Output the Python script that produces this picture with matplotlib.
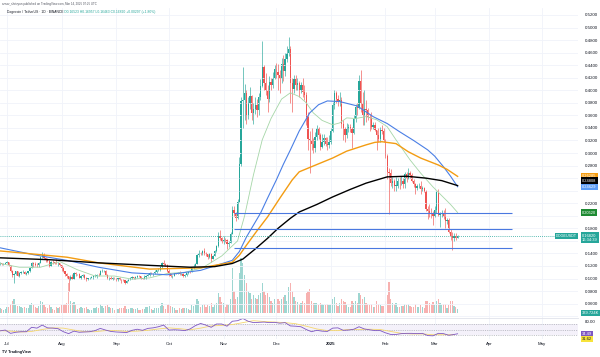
import numpy as np
import pandas as pd
import matplotlib
matplotlib.use("Agg")
import matplotlib.pyplot as plt
import matplotlib.dates as mdates
from matplotlib.transforms import blended_transform_factory

plt.rcParams["font.family"] = ["Liberation Sans", "DejaVu Sans"]

# Daily DOGE/USDT candles, 2024-06-27 .. 2025-03-14 (open = previous close)
first_open = 0.1240
closes = [
    0.1245, 0.1228, 0.1235, 0.1250,
    # jul
    0.1256, 0.1210, 0.1125, 0.1050, 0.1070, 0.1115, 0.1048, 0.1090, 0.1103, 0.1105,
    0.1075, 0.1086, 0.1113, 0.1170, 0.1250, 0.1226, 0.1217, 0.1213, 0.1245, 0.1351,
    0.1375, 0.1326, 0.1298, 0.1285, 0.1205, 0.1266, 0.1260, 0.1252, 0.1240, 0.1243, 0.1208,
    # aug
    0.1174, 0.1117, 0.1070, 0.1033, 0.0984, 0.1027, 0.0997, 0.1096, 0.1066, 0.1069,
    0.1015, 0.1045, 0.1058, 0.1012, 0.0985, 0.1002, 0.1014, 0.1019, 0.1035, 0.1040,
    0.1064, 0.1056, 0.1120, 0.1121, 0.1121, 0.1064, 0.1003, 0.1010, 0.1000, 0.1016, 0.1010,
    # sep
    0.0978, 0.1003, 0.0977, 0.0975, 0.0969, 0.0934, 0.0966, 0.0985, 0.1007, 0.1023,
    0.1011, 0.1021, 0.1047, 0.1040, 0.1009, 0.0996, 0.1022, 0.1045, 0.1060, 0.1090,
    0.1084, 0.1087, 0.1109, 0.1128, 0.1138, 0.1178, 0.1247, 0.1238, 0.1218, 0.1117,
    # oct
    0.1081, 0.1037, 0.1044, 0.1082, 0.1080, 0.1088, 0.1068, 0.1078, 0.1040, 0.1052,
    0.1086, 0.1109, 0.1104, 0.1176, 0.1200, 0.1237, 0.1367, 0.1412, 0.1388, 0.1445,
    0.1406, 0.1387, 0.1349, 0.1383, 0.1315, 0.1364, 0.1442, 0.1523, 0.1674, 0.1647, 0.1589,
    # nov
    0.1620, 0.1614, 0.1557, 0.1574, 0.1716, 0.2089, 0.2044, 0.1957, 0.2217, 0.2820,
    0.3823, 0.3850, 0.3949, 0.3602, 0.3796, 0.3909, 0.3633, 0.3703, 0.3759, 0.3684,
    0.3893, 0.4072, 0.4370, 0.4120, 0.4003, 0.3860, 0.4138, 0.4078, 0.4193, 0.4332,
    # dec
    0.4290, 0.4240, 0.4180, 0.4420, 0.4300, 0.4500, 0.4600, 0.4660, 0.4120, 0.4020,
    0.4180, 0.4080, 0.4110, 0.4000, 0.4080, 0.3980, 0.3930, 0.3570, 0.3230, 0.3200,
    0.3150, 0.3080, 0.3260, 0.3400, 0.3280, 0.3100, 0.3170, 0.3240, 0.3150, 0.3120, 0.3170,
    # jan
    0.3350, 0.3770, 0.3950, 0.3860, 0.3820, 0.3850, 0.3460, 0.3390, 0.3290, 0.3390,
    0.3420, 0.3380, 0.3320, 0.3550, 0.3740, 0.3710, 0.4140, 0.3800, 0.3600, 0.3700,
    0.3680, 0.3570, 0.3560, 0.3420, 0.3450, 0.3370, 0.3290, 0.3220, 0.3360, 0.3350, 0.3210,
    # feb
    0.2950, 0.2700, 0.2680, 0.2520, 0.2560, 0.2480, 0.2480, 0.2560, 0.2550, 0.2560,
    0.2500, 0.2670, 0.2590, 0.2680, 0.2650, 0.2550, 0.2510, 0.2440, 0.2470, 0.2480,
    0.2420, 0.2440, 0.2400, 0.2110, 0.2070, 0.2050, 0.2040, 0.2000,
    # mar
    0.2100, 0.2380, 0.2020, 0.2030, 0.2050, 0.1980, 0.1920, 0.1940, 0.1740, 0.1670,
    0.1640, 0.1680, 0.1652, 0.1682,
]
highs = [
    0.1262, 0.1255, 0.1245, 0.1262,
    0.1278, 0.1262, 0.1215, 0.1135, 0.1085, 0.1125, 0.1120, 0.1110, 0.1125, 0.1130,
    0.1125, 0.1098, 0.1120, 0.1185, 0.1262, 0.1265, 0.1265, 0.1240, 0.1270, 0.1365,
    0.1420, 0.1400, 0.1345, 0.1320, 0.1290, 0.1278, 0.1295, 0.1265, 0.1310, 0.1260, 0.1255,
    0.1215, 0.1185, 0.1125, 0.1085, 0.1040, 0.1055, 0.1065, 0.1105, 0.1108, 0.1080,
    0.1085, 0.1060, 0.1070, 0.1065, 0.1030, 0.1015, 0.1022, 0.1040, 0.1042, 0.1075,
    0.1070, 0.1085, 0.1135, 0.1150, 0.1135, 0.1130, 0.1080, 0.1030, 0.1045, 0.1025, 0.1025,
    0.1015, 0.1008, 0.1020, 0.0985, 0.0992, 0.0980, 0.0975, 0.0995, 0.1020, 0.1035,
    0.1030, 0.1035, 0.1055, 0.1060, 0.1048, 0.1015, 0.1050, 0.1050, 0.1085, 0.1110,
    0.1098, 0.1095, 0.1130, 0.1140, 0.1165, 0.1195, 0.1270, 0.1300, 0.1255, 0.1225,
    0.1150, 0.1095, 0.1060, 0.1090, 0.1095, 0.1098, 0.1125, 0.1090, 0.1085, 0.1065,
    0.1095, 0.1115, 0.1118, 0.1190, 0.1225, 0.1255, 0.1390, 0.1450, 0.1420, 0.1460,
    0.1480, 0.1425, 0.1395, 0.1400, 0.1400, 0.1375, 0.1450, 0.1535, 0.1745, 0.1780, 0.1660,
    0.1680, 0.1640, 0.1625, 0.1600, 0.1745, 0.2155, 0.2160, 0.2060, 0.2265, 0.2930,
    0.3890, 0.4370, 0.4100, 0.4005, 0.3900, 0.4050, 0.3930, 0.3790, 0.3900, 0.3860,
    0.3960, 0.4180, 0.4780, 0.4400, 0.4280, 0.4080, 0.4220, 0.4200, 0.4290, 0.4400,
    0.4440, 0.4420, 0.4330, 0.4520, 0.4560, 0.4600, 0.4700, 0.4850, 0.4700, 0.4200,
    0.4250, 0.4250, 0.4200, 0.4150, 0.4130, 0.4200, 0.4080, 0.3980, 0.3650, 0.3350,
    0.3400, 0.3240, 0.3330, 0.3450, 0.3420, 0.3320, 0.3300, 0.3310, 0.3260, 0.3250, 0.3290,
    0.3400, 0.3820, 0.4000, 0.3990, 0.3920, 0.3980, 0.3900, 0.3520, 0.3420, 0.3480,
    0.3470, 0.3470, 0.3420, 0.3600, 0.3780, 0.3800, 0.4240, 0.4320, 0.3980, 0.4000,
    0.3850, 0.3720, 0.3620, 0.3650, 0.3500, 0.3500, 0.3370, 0.3400, 0.3410, 0.3450, 0.3400,
    0.3220, 0.2980, 0.2760, 0.2750, 0.2620, 0.2590, 0.2620, 0.2600, 0.2620, 0.2630,
    0.2600, 0.2700, 0.2700, 0.2760, 0.2720, 0.2680, 0.2590, 0.2530, 0.2510, 0.2520,
    0.2560, 0.2470, 0.2460, 0.2410, 0.2150, 0.2180, 0.2120, 0.2070,
    0.2160, 0.2400, 0.2420, 0.2060, 0.2100, 0.2100, 0.2120, 0.1960, 0.1960, 0.1790,
    0.1740, 0.1720, 0.1720, 0.1696,
]
lows = [
    0.1222, 0.1215, 0.1220, 0.1225,
    0.1240, 0.1200, 0.1110, 0.1030, 0.0935, 0.1055, 0.1040, 0.1020, 0.1075, 0.1085,
    0.1065, 0.1055, 0.1080, 0.1108, 0.1160, 0.1190, 0.1200, 0.1185, 0.1180, 0.1240,
    0.1320, 0.1310, 0.1270, 0.1268, 0.1180, 0.1200, 0.1230, 0.1225, 0.1235, 0.1200, 0.1200,
    0.1125, 0.1100, 0.1045, 0.1005, 0.0800, 0.0975, 0.0985, 0.0985, 0.1040, 0.1050,
    0.1005, 0.0995, 0.1020, 0.1000, 0.0965, 0.0975, 0.0995, 0.1005, 0.0998, 0.1020,
    0.1015, 0.1040, 0.1050, 0.1100, 0.1100, 0.1055, 0.0990, 0.0975, 0.0990, 0.0975, 0.0998,
    0.0960, 0.0965, 0.0972, 0.0925, 0.0955, 0.0915, 0.0930, 0.0955, 0.0975, 0.0995,
    0.0985, 0.1000, 0.1010, 0.1028, 0.1000, 0.0985, 0.0990, 0.0995, 0.1040, 0.1048,
    0.1068, 0.1045, 0.1075, 0.1085, 0.1115, 0.1125, 0.1165, 0.1215, 0.1205, 0.1105,
    0.1035, 0.1025, 0.1015, 0.1040, 0.1065, 0.1072, 0.1060, 0.1050, 0.1030, 0.1020,
    0.1045, 0.1080, 0.1085, 0.1100, 0.1150, 0.1185, 0.1225, 0.1345, 0.1370, 0.1375,
    0.1380, 0.1360, 0.1310, 0.1335, 0.1270, 0.1305, 0.1355, 0.1425, 0.1510, 0.1610, 0.1560,
    0.1550, 0.1575, 0.1465, 0.1500, 0.1565, 0.1710, 0.1995, 0.1910, 0.1950, 0.2215,
    0.2800, 0.3400, 0.3520, 0.3460, 0.3540, 0.3700, 0.3520, 0.3460, 0.3620, 0.3580,
    0.3600, 0.3850, 0.4060, 0.4000, 0.3920, 0.3660, 0.3820, 0.4000, 0.4040, 0.4180,
    0.4200, 0.4000, 0.3960, 0.4120, 0.4150, 0.4220, 0.4450, 0.4540, 0.3800, 0.3650,
    0.3950, 0.4000, 0.4000, 0.3900, 0.3950, 0.3900, 0.3850, 0.3450, 0.3050, 0.2680,
    0.3050, 0.3000, 0.3020, 0.3200, 0.3220, 0.3050, 0.3080, 0.3130, 0.3110, 0.3050, 0.3080,
    0.3140, 0.3330, 0.3700, 0.3800, 0.3750, 0.3750, 0.3400, 0.3200, 0.3180, 0.3240,
    0.3330, 0.3330, 0.3080, 0.3300, 0.3500, 0.3600, 0.3700, 0.3650, 0.3450, 0.3450,
    0.3500, 0.3520, 0.3350, 0.3380, 0.3380, 0.3350, 0.3050, 0.3180, 0.3170, 0.3300, 0.3180,
    0.2920, 0.2580, 0.2030, 0.2470, 0.2450, 0.2400, 0.2390, 0.2450, 0.2420, 0.2490,
    0.2450, 0.2440, 0.2540, 0.2580, 0.2600, 0.2540, 0.2460, 0.2350, 0.2410, 0.2440,
    0.2350, 0.2400, 0.2380, 0.2070, 0.1950, 0.1980, 0.1960, 0.1850,
    0.1980, 0.2050, 0.1990, 0.1820, 0.1980, 0.1950, 0.1810, 0.1870, 0.1720, 0.1620,
    0.1460, 0.1600, 0.1620, 0.1646,
]
# volume, in units of ~100M DOGE
volumes = [
    5, 4, 3, 4,
    6, 6, 9, 12, 14, 8, 7, 7, 6, 5, 6, 5, 5, 8, 10, 8, 6, 5, 7, 12, 11, 8, 6, 5, 8, 6, 4, 3, 6, 5, 6,
    8, 8, 9, 10, 30, 12, 10, 11, 8, 4, 5, 6, 5, 5, 6, 4, 3, 3, 5, 5, 6, 5, 9, 7, 5, 7, 8, 6, 5, 5, 3,
    4, 4, 5, 5, 5, 7, 4, 4, 5, 5, 4, 4, 5, 3, 3, 4, 4, 6, 6, 7, 4, 3, 5, 5, 5, 7, 10, 7, 4, 8,
    9, 7, 6, 5, 3, 3, 5, 4, 5, 5, 5, 4, 3, 8, 7, 8, 14, 12, 6, 8, 9, 6, 8, 7, 10, 6, 8, 10, 20, 16, 11,
    10, 6, 9, 8, 14, 45, 22, 14, 16, 40, 55, 50, 38, 30, 22, 20, 14, 18, 15, 14,
    18, 20, 30, 22, 18, 20, 16, 12, 10, 14,
    10, 14, 12, 14, 16, 18, 12, 26, 30, 22, 16, 12, 11, 9, 10, 12, 10, 20, 22, 24,
    12, 10, 10, 10, 8, 10, 9, 8, 8, 9, 8,
    8, 14, 16, 10, 7, 10, 14, 12, 11, 8, 6, 6, 12, 10, 12, 10, 20, 18, 14, 16,
    10, 9, 8, 9, 6, 6, 12, 9, 8, 7, 7,
    12, 18, 31, 14, 10, 9, 10, 6, 6, 7, 7, 9, 8, 9, 7, 6, 6, 9, 6, 6, 8, 6, 5, 12, 12, 10, 9, 11,
    8, 12, 14, 10, 8, 9, 9, 5, 8, 12, 12, 7, 6, 4,
]

# moving averages
ma20_dates = ["2024-06-27", "2024-07-08", "2024-07-20", "2024-07-31", "2024-08-10", "2024-08-20",
              "2024-08-31", "2024-09-10", "2024-09-20", "2024-09-30", "2024-10-10", "2024-10-20",
              "2024-10-31", "2024-11-09", "2024-11-13", "2024-11-18", "2024-11-23", "2024-11-28",
              "2024-12-04", "2024-12-09", "2024-12-14", "2024-12-18", "2024-12-22", "2024-12-27",
              "2025-01-02", "2025-01-06", "2025-01-10", "2025-01-15", "2025-01-21", "2025-01-27",
              "2025-02-02", "2025-02-07", "2025-02-11", "2025-02-15", "2025-02-21", "2025-02-28",
              "2025-03-05", "2025-03-10", "2025-03-14"]
ma20_vals = [0.124, 0.118, 0.118, 0.127, 0.114, 0.104, 0.104, 0.099, 0.101, 0.108, 0.110, 0.117,
             0.136, 0.160, 0.200, 0.265, 0.321, 0.355, 0.386, 0.396, 0.390, 0.380, 0.364, 0.352,
             0.345, 0.348, 0.356, 0.355, 0.358, 0.353, 0.342, 0.321, 0.305, 0.289, 0.268, 0.246,
             0.232, 0.218, 0.2052]
ma50_dates = ["2024-06-27", "2024-07-16", "2024-08-04", "2024-08-22", "2024-09-10", "2024-09-30",
              "2024-10-19", "2024-11-06", "2024-11-10", "2024-11-14", "2024-11-18", "2024-11-22",
              "2024-11-26", "2024-12-01", "2024-12-05", "2024-12-09", "2024-12-14", "2024-12-20",
              "2024-12-25", "2024-12-30", "2025-01-06", "2025-01-16", "2025-01-25", "2025-02-02",
              "2025-02-09", "2025-02-17", "2025-02-25", "2025-03-01", "2025-03-06", "2025-03-10",
              "2025-03-14"]
ma50_vals = [0.149, 0.138, 0.129, 0.118, 0.109, 0.106, 0.113, 0.129, 0.143, 0.166, 0.185, 0.204,
             0.228, 0.257, 0.282, 0.305, 0.335, 0.364, 0.377, 0.383, 0.382, 0.375, 0.358, 0.347,
             0.334, 0.320, 0.305, 0.295, 0.278, 0.263, 0.2463]
ma100_dates = ["2024-06-27", "2024-08-04", "2024-08-22", "2024-09-20", "2024-10-19", "2024-11-06",
               "2024-11-10", "2024-11-14", "2024-11-20", "2024-11-26", "2024-12-03", "2024-12-10",
               "2024-12-14", "2024-12-20", "2025-01-02", "2025-01-10", "2025-01-21", "2025-01-26",
               "2025-01-30", "2025-02-07", "2025-02-14", "2025-02-21", "2025-03-03", "2025-03-08",
               "2025-03-14"]
ma100_vals = [0.144, 0.134, 0.125, 0.115, 0.117, 0.126, 0.137, 0.153, 0.176, 0.198, 0.228, 0.257,
              0.270, 0.277, 0.292, 0.303, 0.313, 0.317, 0.318, 0.315, 0.302, 0.292, 0.281, 0.274,
              0.2628]
ma200_dates = ["2024-06-27", "2024-07-25", "2024-08-22", "2024-09-20", "2024-10-13", "2024-10-27",
               "2024-11-06", "2024-11-12", "2024-11-19", "2024-11-26", "2024-12-02", "2024-12-09",
               "2024-12-14", "2024-12-24", "2025-01-02", "2025-01-12", "2025-01-21", "2025-02-02",
               "2025-02-13", "2025-02-24", "2025-03-05", "2025-03-14"]
ma200_vals = [0.133, 0.130, 0.125, 0.121, 0.118, 0.119, 0.124, 0.131, 0.147, 0.164, 0.180, 0.196,
              0.206, 0.218, 0.230, 0.242, 0.252, 0.262, 0.263, 0.260, 0.256, 0.2481]

# horizontal support levels drawn on the chart
levels = [0.2045, 0.1790, 0.1480]
level_start = "2024-11-07"
level_end = "2025-04-14"

# RSI (every 3 days from 2024-06-27) and its moving average (every 6 days)
rsi_vals = [45, 48, 36, 40, 42, 42, 58, 55, 66, 56, 55, 53, 42, 35, 44, 40, 41, 42, 46, 54,
            48, 43, 41, 40, 39, 47, 51, 47, 54, 56, 60, 66, 48, 49, 48, 46, 52, 64, 72, 66,
            58, 70, 70, 62, 80, 82, 90, 80, 75, 76, 77, 75, 76, 73, 75, 63, 62, 60, 50, 42,
            47, 44, 43, 55, 56, 47, 48, 51, 60, 52, 49, 46, 46, 38, 32, 32, 35, 36, 36, 35,
            36, 28, 27, 36, 35, 29, 32]
rsi_last = 34.49
rsi_ma_vals = [46, 44, 41, 43, 50, 56, 55, 48, 42, 42, 46, 46, 43, 44, 47, 52, 56, 53, 49, 55,
               63, 65, 68, 75, 82, 79, 77, 75, 71, 62, 52, 46, 46, 50, 50, 51, 50, 43, 36, 34,
               34, 31, 31, 31]

month_ticks = ["2024-07-01", "2024-08-01", "2024-09-01", "2024-10-01", "2024-11-01", "2024-12-01",
               "2025-01-01", "2025-02-01", "2025-03-01", "2025-04-01", "2025-05-01"]
month_labels = ["Jul", "Aug", "Sep", "Oct", "Nov", "Dec", "2025", "Feb", "Mar", "Apr", "May"]

# price labels hidden behind the coloured tags
hidden_ticks = [0.04, 0.16, 0.20, 0.24, 0.26]

UP = "#26a69a"
DOWN = "#ef5350"
GRID = "#f0f3fa"
TXT = "#131722"
W, H = 600, 357


def rect(x0, y0, x1, y1):
    return [x0 / W, 1 - y1 / H, (x1 - x0) / W, (y1 - y0) / H]


def tag(axis, value, text, bg, fg="white", dx=4, dy=0, ha="left", size=2.9):
    tr = blended_transform_factory(axis.transAxes, axis.transData)
    axis.annotate(text, xy=(1, value), xycoords=tr, xytext=(dx, dy),
                  textcoords="offset pixels", ha=ha, va="center", fontsize=size,
                  color=fg, linespacing=1.15, annotation_clip=False, zorder=10,
                  bbox=dict(boxstyle="square,pad=0.3", fc=bg, ec="none"))


def main():

    dates = pd.date_range("2024-06-27", periods=len(closes), freq="D")
    close = np.array(closes)
    opens = np.r_[first_open, close[:-1]]
    up = close >= opens
    colors = np.where(up, UP, DOWN)

    fig = plt.figure(figsize=(6, 3.57), dpi=100)
    ax = fig.add_axes(rect(0, 8, 578, 318))
    axv = fig.add_axes(rect(0, 258, 578, 313), sharex=ax)
    axr = fig.add_axes(rect(0, 318, 578, 339), sharex=ax)

    ax.set_zorder(2)
    ax.patch.set_visible(False)
    axv.set_zorder(1)

    t0 = pd.Timestamp("2024-07-01")
    x_left = mdates.date2num(t0) - 3.98
    x_right = mdates.date2num(t0) + 324.4

    # volume
    axv.bar(dates, volumes, width=0.7, color=colors, alpha=0.45, linewidth=0)
    axv.set_ylim(0, 55)
    axv.axis("off")

    # candles
    ax.vlines(dates, lows, highs, colors=colors, linewidth=0.45)
    body = np.abs(close - opens)
    body = np.maximum(body, 0.0006)
    ax.bar(dates, body, bottom=np.minimum(close, opens), width=0.72,
           color=colors, linewidth=0)

    # moving averages
    ax.plot(pd.to_datetime(ma20_dates), ma20_vals, color="#a5d6a7", lw=0.6)
    ax.plot(pd.to_datetime(ma50_dates), ma50_vals, color="#4a7fe5", lw=0.8)
    ax.plot(pd.to_datetime(ma100_dates), ma100_vals, color="#f39c12", lw=1.0)
    ax.plot(pd.to_datetime(ma200_dates), ma200_vals, color="black", lw=1.0)

    # levels and last price line
    ax.hlines(levels, pd.Timestamp(level_start), pd.Timestamp(level_end),
              color="#4a78e0", lw=0.8)
    ax.axhline(close[-1], color=UP, lw=0.6, ls=(0, (1, 1.5)))

    ax.set_xlim(x_left, x_right)
    ax.set_ylim(0.0371, 0.5311)
    yt = np.round(np.arange(0.04, 0.521, 0.02), 2)
    ax.set_yticks(yt)
    ax.set_yticklabels(["" if v in hidden_ticks else f"{v:.4f}" for v in yt])
    ax.yaxis.tick_right()
    ax.tick_params(axis="y", length=0, pad=5, labelsize=3.2, labelcolor=TXT)
    ax.tick_params(axis="x", length=0, labelbottom=False)
    ax.set_xticks(pd.to_datetime(month_ticks))
    ax.grid(True, color=GRID, lw=0.6)
    for s in ax.spines.values():
        s.set_visible(False)

    # RSI pane
    rsi_dates = list(pd.date_range("2024-06-27", "2025-03-12", freq="3D")) + [dates[-1]]
    rsi_ma_dates = pd.date_range("2024-06-27", "2025-03-12", freq="6D")
    axr.axhspan(30, 70, color="#7e57c2", alpha=0.08, lw=0)
    for lvl in (70, 50, 30):
        axr.axhline(lvl, color="#9598a1", lw=0.4, ls=(0, (2, 2)))
    axr.plot(rsi_ma_dates, rsi_ma_vals, color="#f5d76e", lw=0.6)
    axr.plot(rsi_dates, rsi_vals + [rsi_last], color="#7e57c2", lw=0.6)
    axr.set_ylim(15.5, 91.8)
    axr.set_yticks([80])
    axr.set_yticklabels(["80.00"])
    axr.yaxis.tick_right()
    axr.tick_params(axis="y", length=0, pad=5, labelsize=3.2, labelcolor=TXT)
    axr.set_xticks(pd.to_datetime(month_ticks))
    axr.set_xticklabels(month_labels)
    axr.tick_params(axis="x", length=0, pad=2.5, labelsize=3.2, labelcolor=TXT)
    axr.get_xticklabels()[6].set_fontweight("bold")
    axr.grid(True, axis="x", color=GRID, lw=0.6)
    for s in axr.spines.values():
        s.set_visible(False)
    axr.spines["top"].set_visible(True)
    axr.spines["top"].set_color("#e0e3eb")
    axr.spines["top"].set_linewidth(0.6)
    axr.set_xlim(x_left, x_right)

    # price scale tags
    tag(ax, ma100_vals[-1], "0.26285", "#f59d12")
    tag(ax, 0.24808, "0.24808", "black", dy=5)
    tag(ax, ma50_vals[-1], "0.24629", "#5b9cf6")
    tag(ax, ma20_vals[-1], "0.20520", "#1e8a32")
    tag(ax, close[-1], "0.16820\n16:34:39", UP, dy=-2)
    tag(ax, close[-1], "DOGEUSDT", UP, dx=-1, dy=0, ha="right", size=2.7)
    tag(axr, rsi_last, "34.49", "#7e57c2")
    tag(axr, rsi_ma_vals[-1], "31.62", "#f7e33b", fg=TXT, dy=-4)
    fig.text(582 / W, 1 - 313 / H, "339.724K", fontsize=2.9, color="white",
             va="center", bbox=dict(boxstyle="square,pad=0.3", fc=UP, ec="none"))

    # header and footer
    fig.text(2 / W, 1 - 4 / H,
             "arnav_shrivyan published on TradingView.com, Mar 14, 2025 07:25 UTC",
             fontsize=2.1, color="#50535e", va="center")
    fig.text(7 / W, 1 - 12.5 / H, "Dogecoin / TetherUS · 1D · BINANCE",
             fontsize=2.4, color=TXT, va="center")
    fig.text(64 / W, 1 - 12.5 / H,
             "O0.16523 H0.16957 L0.16463 C0.16820 +0.00297 (+1.80%)",
             fontsize=2.4, color=UP, va="center")
    fig.text(2 / W, 1 - 352 / H, "TV TradingView", fontsize=2.8, color=TXT,
             va="center", fontweight="bold")

    fig.savefig("out.png", dpi=100, facecolor="white")


if __name__ == "__main__":
    main()
